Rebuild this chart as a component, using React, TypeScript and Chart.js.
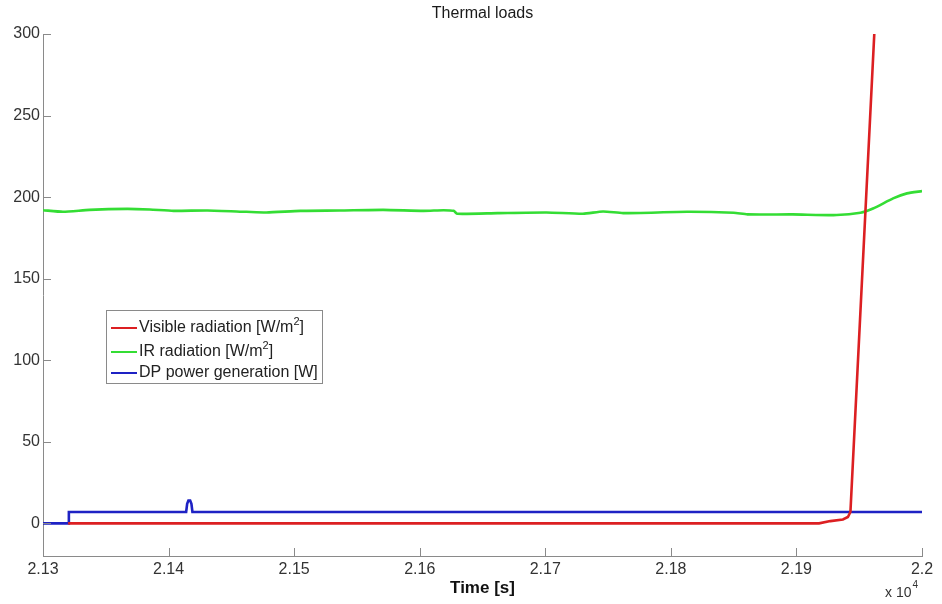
import React, { useEffect, useRef } from "react";
import { Chart, registerables } from "chart.js";

Chart.register(...registerables);

// ---- Data ----
const seriesLabels = ["Visible radiation [W/m²]", "IR radiation [W/m²]", "DP power generation [W]"];
const seriesColors = ["#dc1f22", "#34dd34", "#1e22c4"];

const visT = [21320, 21918, 21927, 21937, 21941, 21943, 21962];
const visV = [0, 0, 1.4, 2.4, 3.9, 7, 300];

const irT = [21300, 21316, 21337, 21367, 21385, 21404, 21431, 21462, 21478, 21505, 21536, 21571, 21603, 21619, 21627, 21630, 21662, 21701, 21730, 21746, 21762, 21813, 21850, 21861, 21897, 21932, 21951, 21961, 21977, 21988, 22000];
const irV = [192.0, 191.0, 192.2, 192.8, 192.4, 191.6, 191.8, 191.0, 190.6, 191.6, 191.8, 192.2, 191.6, 192.0, 191.6, 189.8, 190.2, 190.6, 189.8, 191.2, 190.2, 191.0, 190.4, 189.4, 189.4, 189.0, 190.4, 193.0, 199.2, 202.3, 203.7];

const dpT = [21300, 21320, 21320.6, 21414, 21414.8, 21415.8, 21417.2, 21418.2, 21419, 22000];
const dpV = [0, 0, 7, 7, 12, 14, 14, 12, 7, 7];

const xTicks = [21300, 21400, 21500, 21600, 21700, 21800, 21900, 22000];
const xTickLabels = ["2.13", "2.14", "2.15", "2.16", "2.17", "2.18", "2.19", "2.2"];
const yTicks = [0, 50, 100, 150, 200, 250, 300];

const titleText = "Thermal loads";
const xLabelText = "Time [s]";

const FONT = "'Liberation Sans', Arial, sans-serif";

function toPoints(t: number[], v: number[]) {
  return t.map((x, i) => ({ x, y: v[i] }));
}

function drawSuperText(ctx: CanvasRenderingContext2D, text: string, x: number, y: number, size: number) {
  const parts = text.split("²");
  let cx = x;
  parts.forEach((p, i) => {
    ctx.font = `${size}px ${FONT}`;
    ctx.fillText(p, cx, y);
    cx += ctx.measureText(p).width;
    if (i < parts.length - 1) {
      ctx.font = `${Math.round(size * 0.7)}px ${FONT}`;
      ctx.fillText("2", cx, y - size * 0.4);
      cx += ctx.measureText("2").width;
    }
  });
}

const decorPlugin = {
  id: "decor",
  afterDraw(chart: any) {
    const ctx = chart.ctx as CanvasRenderingContext2D;
    const area = chart.chartArea;
    const xs = chart.scales.x;
    const ys = chart.scales.y;
    ctx.save();
    // inward ticks
    ctx.strokeStyle = "#8a8a8a";
    ctx.lineWidth = 1;
    ctx.beginPath();
    xTicks.forEach((t) => {
      const px = Math.round(xs.getPixelForValue(t)) + 0.5;
      ctx.moveTo(px, area.bottom);
      ctx.lineTo(px, area.bottom - 8);
    });
    yTicks.forEach((v) => {
      const py = Math.round(ys.getPixelForValue(v)) + 0.5;
      ctx.moveTo(area.left, py);
      ctx.lineTo(area.left + 8, py);
    });
    ctx.stroke();

    // title
    const cx = (area.left + area.right) / 2;
    ctx.fillStyle = "#1a1a1a";
    ctx.textAlign = "center";
    ctx.textBaseline = "middle";
    ctx.font = `16px ${FONT}`;
    ctx.fillText(titleText, cx, 14);
    // x label
    ctx.fillStyle = "#111";
    ctx.font = `bold 17px ${FONT}`;
    ctx.fillText(xLabelText, cx, 588);
    // exponent
    ctx.textAlign = "left";
    ctx.fillStyle = "#333";
    ctx.font = `14px ${FONT}`;
    ctx.fillText("x 10", 885, 593);
    const w = ctx.measureText("x 10").width;
    ctx.font = `10px ${FONT}`;
    ctx.fillText("4", 885 + w + 1, 585);

    // legend
    const lx = 106, ly = 310, lw = 216, lh = 73;
    ctx.fillStyle = "#ffffff";
    ctx.fillRect(lx, ly, lw, lh);
    ctx.strokeStyle = "#8a8a8a";
    ctx.lineWidth = 1;
    ctx.strokeRect(lx + 0.5, ly + 0.5, lw, lh);
    const rows = [328, 352, 373];
    seriesLabels.forEach((lab, i) => {
      const ry = rows[i];
      ctx.strokeStyle = seriesColors[i];
      ctx.lineWidth = 2;
      ctx.beginPath();
      ctx.moveTo(111, ry);
      ctx.lineTo(137, ry);
      ctx.stroke();
      ctx.fillStyle = "#222";
      ctx.textAlign = "left";
      ctx.textBaseline = "middle";
      drawSuperText(ctx, lab, 139, ry, 16);
    });
    ctx.restore();
  },
};

export default function App() {
  const ref = useRef<HTMLCanvasElement | null>(null);
  useEffect(() => {
    document.body.style.margin = "0";
    const canvas = ref.current;
    if (!canvas) return;
    const tickFont = { family: FONT, size: 16 };
    const chart = new Chart(canvas, {
      type: "line",
      data: {
        datasets: [
          { label: seriesLabels[0], data: toPoints(visT, visV), borderColor: seriesColors[0], borderWidth: 2.6, pointRadius: 0, tension: 0 },
          { label: seriesLabels[1], data: toPoints(irT, irV), borderColor: seriesColors[1], borderWidth: 2.6, pointRadius: 0, tension: 0.2 },
          { label: seriesLabels[2], data: toPoints(dpT, dpV), borderColor: seriesColors[2], borderWidth: 2.6, pointRadius: 0, tension: 0 },
        ],
      },
      options: {
        animation: false,
        responsive: false,
        maintainAspectRatio: false,
        layout: { padding: { left: 0, top: 34, right: 20, bottom: 0 } },
        plugins: { legend: { display: false }, title: { display: false }, tooltip: { enabled: false } },
        scales: {
          x: {
            type: "linear",
            min: 21300,
            max: 22000,
            afterFit: (s: any) => { s.height = 48; },
            afterBuildTicks: (s: any) => { s.ticks = xTicks.map((v) => ({ value: v })); },
            ticks: {
              autoSkip: false,
              maxRotation: 0,
              padding: 4,
              color: "#333",
              font: tickFont,
              callback: (v: any) => { const i = xTicks.indexOf(Number(v)); return i >= 0 ? xTickLabels[i] : ""; },
            },
            grid: { display: false, drawTicks: false },
            border: { display: true, color: "#8a8a8a", width: 1 },
          },
          y: {
            type: "linear",
            min: -20,
            max: 300,
            afterFit: (s: any) => { s.width = 43; },
            afterBuildTicks: (s: any) => { s.ticks = yTicks.map((v) => ({ value: v })); },
            ticks: { autoSkip: false, padding: 3, color: "#333", font: tickFont },
            grid: { display: false, drawTicks: false },
            border: { display: true, color: "#8a8a8a", width: 1 },
          },
        },
      },
      plugins: [decorPlugin],
    });
    return () => chart.destroy();
  }, []);
  return (
    <div style={{ width: 942, height: 604, background: "#fff" }}>
      <canvas ref={ref} width={942} height={604} style={{ display: "block" }} />
    </div>
  );
}
